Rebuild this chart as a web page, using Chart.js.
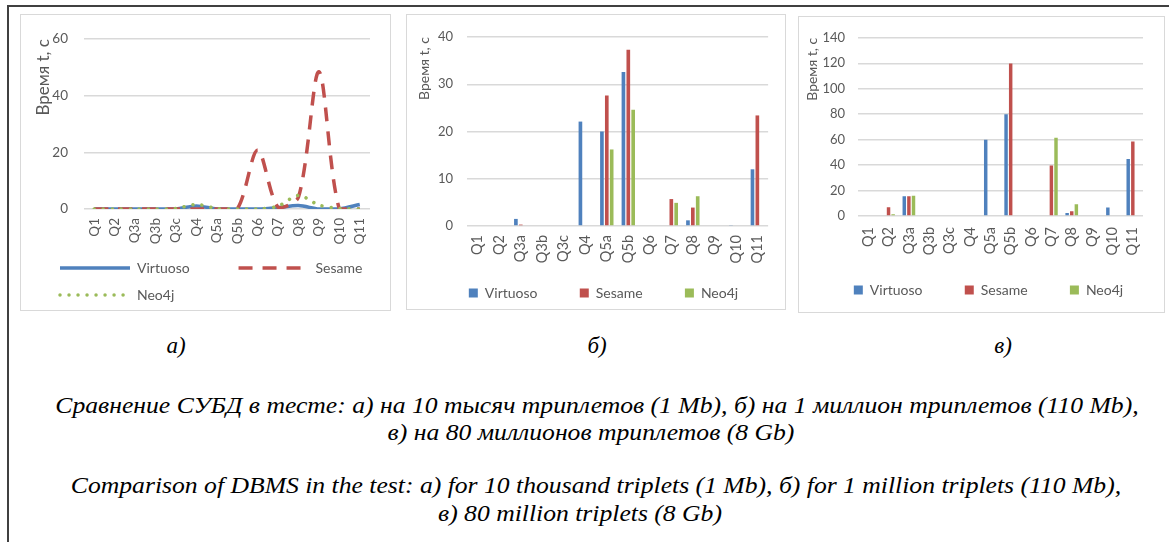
<!DOCTYPE html>
<html><head><meta charset="utf-8">
<script src="https://cdn.jsdelivr.net/npm/chart.js@4.4.1/dist/chart.umd.min.js"></script>
<style>
html,body{margin:0;padding:0;background:#fff;width:1169px;height:542px;overflow:hidden;position:relative;}
.frame{position:absolute;left:7px;top:5px;width:1300px;height:700px;border-left:2px solid #404040;border-top:2px solid #404040;}
.panel{position:absolute;border:1.5px solid #d9d9d9;box-sizing:border-box;}
canvas{position:absolute;}
.cap{position:absolute;width:1200px;text-align:center;font-family:"Liberation Serif","DejaVu Serif",serif;font-style:italic;font-size:23px;line-height:23px;white-space:nowrap;color:#000;transform:scaleX(1.115);transform-origin:600px 50%;}
.lbl{transform:none;}
</style></head><body>
<div class="frame"></div>
<div class="panel" style="left:20px;top:14px;width:371px;height:297px"></div>
<div class="panel" style="left:406px;top:14px;width:380px;height:296px"></div>
<div class="panel" style="left:798px;top:16px;width:367px;height:297px"></div>
<canvas id="ca" width="368" height="297" style="left:21px;top:15px"></canvas>
<canvas id="cb" width="377" height="295" style="left:407px;top:15px"></canvas>
<canvas id="cc" width="364" height="290" style="left:799px;top:17px"></canvas>
<div class="cap lbl" style="left:-424px;top:334px">а)</div>
<div class="cap lbl" style="left:-3px;top:334px">б)</div>
<div class="cap lbl" style="left:403px;top:334px">в)</div>
<div class="cap" style="left:-3px;top:394px">Сравнение СУБД в тесте: а) на 10 тысяч триплетов (1 Mb), б) на 1 миллион триплетов (110 Mb),</div>
<div class="cap" style="left:-9px;top:421px">в) на 80 миллионов триплетов (8 Gb)</div>
<div class="cap" style="left:-4px;top:474px">Comparison of DBMS in the test: a) for 10 thousand triplets (1 Mb), б) for 1 million triplets (110 Mb),</div>
<div class="cap" style="left:-20px;top:502px">в) 80 million triplets (8 Gb)</div>
<script>
// ---- data ----
const categories = ['Q1','Q2','Q3a','Q3b','Q3c','Q4','Q5a','Q5b','Q6','Q7','Q8','Q9','Q10','Q11'];
const seriesNames = ['Virtuoso','Sesame','Neo4j'];
const yTitle = 'Время t, с';

// a) 10 thousand triplets (line chart)
const virtuosoA = [0,0,0,0,0,1.1,0,0,0,0.5,1.2,0,0,1.6];
const sesameA   = [0,0,0,0,0,0,0,0,20.8,0.6,4.2,48.5,0,0];
const neo4jA    = [0,0,0,0,0.2,1.6,0.2,0,0,1,4.8,1.4,0.2,0];
const yTicksA   = [0,20,40,60];

// b) 1 million triplets (bar chart)
const virtuosoB = [0,0,1.5,0,0,22.1,20,32.6,0,0,1.2,0,0.2,12];
const sesameB   = [0,0,0.3,0,0,0,27.6,37.3,0,5.7,3.9,0,0,23.4];
const neo4jB    = [0,0,0,0,0,0,16.2,24.6,0,4.9,6.3,0,0,0];
const yTicksB   = [0,10,20,30,40];

// c) 80 million triplets (bar chart)
const virtuosoC = [0,0.5,15.5,0,0,0,60,80,0,0,2.4,0,6.6,44.8];
const sesameC   = [0,6.8,15.5,0.5,0,0,0,119.8,0,39.6,3.7,0,0,58.5];
const neo4jC    = [0,1.3,16,0,0,0,0,0,0,61.4,9.2,0,0,0];
const yTicksC   = [0,20,40,60,80,100,120,140];

// ---- styling ----
const FONT = 'Lato, "Liberation Sans", sans-serif';
Chart.defaults.font.family = FONT;
Chart.defaults.color = '#595959';
Chart.defaults.animation = false;
const COLORS = ['#4F81BD','#C0504D','#9BBB59'];
const GRID = '#d9d9d9';
const TXT = '#595959';

const measureCtx = document.createElement('canvas').getContext('2d');
function padLabel(text, width, size) {
  measureCtx.font = size + 'px ' + FONT;
  let t = text;
  if (!width) return t;
  while (measureCtx.measureText(t + ' ').width <= width) t += ' ';
  return t;
}

function legendGen(widths, line) {
  return chart => chart.data.datasets.map((ds, i) => ({
    text: padLabel(ds.label, widths[i], 14),
    fillStyle: ds.borderColor,
    strokeStyle: ds.borderColor,
    fontColor: TXT,
    lineWidth: line ? ds.borderWidth : 0,
    lineDash: line ? (ds.borderDash || []) : [],
    lineCap: line ? (ds.borderCapStyle || 'butt') : 'butt',
    pointStyle: 'line',
    hidden: false,
    datasetIndex: i
  }));
}

function scalesCfg(c) {
  const t = c.yTicks;
  return {
    x: {
      offset: true,
      grid: {display: false, drawTicks: false},
      border: {display: false},
      ticks: {autoSkip: false, minRotation: 90, maxRotation: 90, padding: c.xTickPad, font: {size: c.xFont}, color: TXT},
      afterFit: s => {
        s.height = s.chart.height - s.chart.legend.height - c.pad.bottom - c.chartBottom;
        if (c.areaRight) s.paddingRight = c.areaRight;
      }
    },
    y: {
      min: t[0], max: t[t.length - 1],
      ticks: {stepSize: t[1] - t[0], padding: c.yTickPad, font: {size: c.yFont}, color: TXT},
      grid: {color: GRID, lineWidth: 1.5, drawTicks: false},
      border: {display: false},
      title: {display: true, text: yTitle, align: 'end', color: TXT, font: {size: c.titleFont}, padding: {top: c.titlePad, bottom: 0}},
      afterFit: s => { s.width = c.yWidth; }
    }
  };
}

// a) line chart
const cfgA = {pad: {left: 26, right: 0, top: 20, bottom: 0}, areaRight: 19, chartBottom: 194, yWidth: 37,
  yTicks: yTicksA, xFont: 13.5, yFont: 13.5, titleFont: 17, titlePad: -14, yTickPad: 16, xTickPad: 9};
new Chart(document.getElementById('ca'), {
  type: 'line',
  data: {
    labels: categories,
    datasets: [
      {label: seriesNames[0], data: virtuosoA, borderColor: COLORS[0], backgroundColor: COLORS[0], borderWidth: 3.5, pointRadius: 0, tension: 0.3, order: 3},
      {label: seriesNames[1], data: sesameA, borderColor: COLORS[1], backgroundColor: COLORS[1], borderWidth: 3.5, borderDash: [14, 10], pointRadius: 0, tension: 0.3, order: 2},
      {label: seriesNames[2], data: neo4jA, borderColor: COLORS[2], backgroundColor: COLORS[2], borderWidth: 3.5, borderDash: [0.01, 9], borderCapStyle: 'round', pointRadius: 0, tension: 0.3, order: 1}
    ]
  },
  options: {
    responsive: false,
    layout: {padding: cfgA.pad},
    scales: scalesCfg(cfgA),
    plugins: {
      tooltip: {enabled: false},
      legend: {position: 'bottom', align: 'start',
        labels: {usePointStyle: true, pointStyle: 'line', pointStyleWidth: 70, padding: 13, color: TXT, font: {size: 14}, generateLabels: legendGen([90, 0, 0], true)}}
    }
  }
});

function barChart(id, cfg, v, s, n) {
  new Chart(document.getElementById(id), {
    type: 'bar',
    data: {
      labels: categories,
      datasets: [v, s, n].map((d, i) => ({label: seriesNames[i], data: d, backgroundColor: COLORS[i], borderColor: COLORS[i], borderWidth: 0, barPercentage: 0.75, categoryPercentage: 0.68}))
    },
    options: {
      responsive: false,
      layout: {padding: cfg.pad},
      scales: scalesCfg(cfg),
      plugins: {
        tooltip: {enabled: false},
        legend: {position: 'bottom', align: 'center',
          labels: {boxWidth: 9, boxHeight: 9, padding: 10, color: TXT, font: {size: 14}, generateLabels: legendGen(cfg.legendW, false)}}
      }
    }
  });
}

barChart('cb', {pad: {left: 23, right: 7, top: 22, bottom: 0}, chartBottom: 211, yWidth: 37, legendW: [88, 82, 0],
  yTicks: yTicksB, xFont: 14.5, yFont: 13, titleFont: 14, titlePad: -14, yTickPad: 14, xTickPad: 9}, virtuosoB, sesameB, neo4jB);
barChart('cc', {pad: {left: 20, right: 5, top: 20, bottom: 0}, areaRight: 20, chartBottom: 199, yWidth: 39, legendW: [86, 82, 0],
  yTicks: yTicksC, xFont: 14.5, yFont: 13, titleFont: 14, titlePad: -14.5, yTickPad: 13, xTickPad: 11}, virtuosoC, sesameC, neo4jC);
</script>
</body></html>
